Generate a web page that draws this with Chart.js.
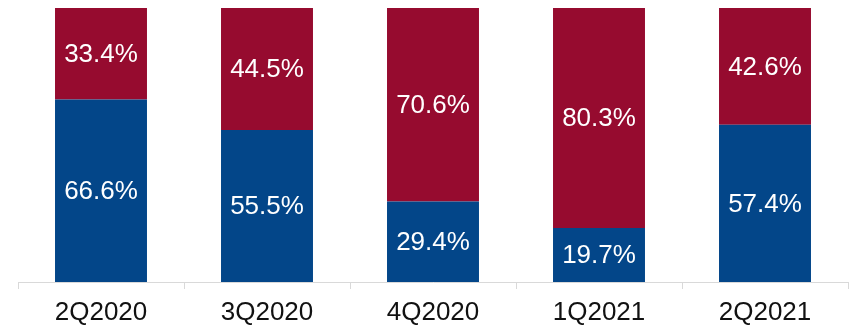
<!DOCTYPE html>
<html>
<head>
<meta charset="utf-8">
<script src="https://cdn.jsdelivr.net/npm/chart.js@4"></script>
<style>
  html, body { margin: 0; padding: 0; background: #fff; }
  #wrap { width: 851px; height: 325px; }
</style>
</head>
<body>
<div id="wrap"><canvas id="shares"></canvas></div>
<script>
// quarters and the two shares (percent), blue at the bottom, red on top
var quarters = ['2Q2020', '3Q2020', '4Q2020', '1Q2021', '2Q2021'];
var blueShare = [66.6, 55.5, 29.4, 19.7, 57.4];
var redShare = [33.4, 44.5, 70.6, 80.3, 42.6];

// draw the white value in the middle of each segment
var segmentLabels = {
  id: 'segmentLabels',
  afterDatasetsDraw: function(chart) {
    var ctx = chart.ctx;
    ctx.save();
    ctx.fillStyle = '#ffffff';
    ctx.font = '26px "Liberation Sans", Arial, sans-serif';
    ctx.textAlign = 'center';
    ctx.textBaseline = 'middle';
    chart.data.datasets.forEach(function(ds, i) {
      chart.getDatasetMeta(i).data.forEach(function(bar, j) {
        var mid = (bar.y + bar.base) / 2;
        ctx.fillText(ds.data[j].toFixed(1) + '%', bar.x, mid + 1);
      });
    });
    ctx.restore();
  }
};

Chart.defaults.font.family = '"Liberation Sans", Arial, sans-serif';
var chart = new Chart('shares', {
  type: 'bar',
  data: {
    labels: quarters,
    datasets: [
      {
        label: 'blue',
        data: blueShare,
        backgroundColor: 'rgb(3, 70, 137)',
        borderWidth: 0
      },
      {
        label: 'red',
        data: redShare,
        backgroundColor: 'rgb(150, 11, 47)',
        borderWidth: 0
      }
    ]
  },
  options: {
    responsive: true,
    maintainAspectRatio: false,
    animation: false,
    layout: { padding: { left: 18, right: 3, top: 8, bottom: 0 } },
    plugins: {
      legend: { display: false },
      tooltip: { enabled: false }
    },
    datasets: {
      bar: { barPercentage: 0.554, categoryPercentage: 1 }
    },
    scales: {
      x: {
        stacked: true,
        border: { display: true, color: '#d9d9d9', width: 1 },
        grid: {
          offset: true,
          drawOnChartArea: false,
          drawTicks: true,
          tickLength: 7,
          color: '#d9d9d9'
        },
        ticks: {
          color: '#111111',
          padding: 11,
          font: { size: 26, lineHeight: 1 }
        },
        afterFit: function(scale) { scale.height = 43; }
      },
      y: {
        stacked: true,
        display: false,
        min: 0,
        max: 100
      }
    }
  },
  plugins: [segmentLabels]
});
</script>
</body>
</html>
